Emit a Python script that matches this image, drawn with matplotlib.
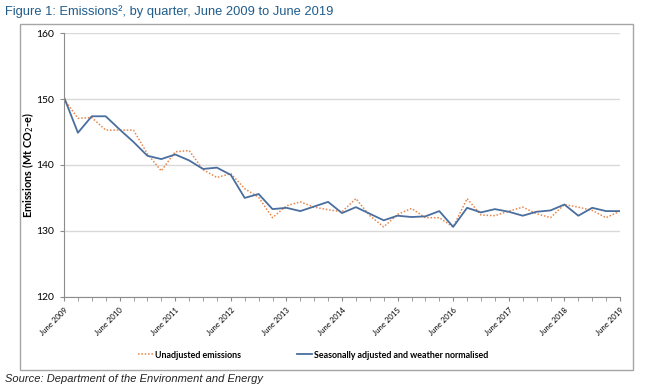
import numpy as np
import matplotlib
matplotlib.use("Agg")
import matplotlib.pyplot as plt
from matplotlib.patches import Rectangle

# quarterly values, June 2009 .. June 2019 (41 quarters)
unadjusted = [150.0, 147.1, 147.2, 145.3, 145.3, 145.3, 141.7, 139.1, 142.0, 142.2,
              139.3, 138.1, 138.7, 136.4, 135.1, 132.0, 133.8, 134.4, 133.6, 133.2,
              132.9, 134.9, 132.3, 130.6, 132.5, 133.4, 132.0, 132.0, 130.6, 134.9,
              132.4, 132.3, 133.0, 133.6, 132.6, 132.0, 134.0, 133.6, 133.1, 132.0,
              133.0]
adjusted = [150.3, 144.9, 147.4, 147.4, 145.4, 143.5, 141.4, 140.9, 141.6, 140.7,
            139.4, 139.6, 138.5, 135.0, 135.6, 133.3, 133.5, 133.0, 133.7, 134.4,
            132.7, 133.6, 132.6, 131.6, 132.3, 132.1, 132.2, 133.0, 130.6, 133.5,
            132.8, 133.3, 132.9, 132.3, 132.9, 133.1, 134.0, 132.3, 133.5, 133.0,
            133.0]
years = list(range(2009, 2020))
year_labels = ["June %d" % y for y in years]

chart_font = "Lato"
x = np.arange(len(adjusted))

fig = plt.figure(figsize=(6.59, 3.92), dpi=100)
ax = fig.add_axes([64 / 659, 1 - 296.7 / 392, 556 / 659, 263.4 / 392])

ax.plot(x, unadjusted, color="#E8864A", linestyle=(0, (1, 1.2)), linewidth=1.1,
        label="Unadjusted emissions")
ax.plot(x, adjusted, color="#4A6E9E", linewidth=1.3,
        label="Seasonally adjusted and weather normalised")

ax.set_xlim(0, 40)
ax.set_ylim(120, 160)
ax.set_yticks([120, 130, 140, 150, 160])
ax.set_xticks(np.arange(0, 41, 4))
ax.set_xticks(np.arange(0, 41, 1), minor=True)
ax.set_xticklabels(year_labels, rotation=45, ha="right", va="top",
                   rotation_mode="anchor", fontsize=5.6, family=chart_font)
for lab in ax.get_yticklabels():
    lab.set_family(chart_font)
    lab.set_fontsize(7.5)

ax.grid(axis="y", color="#D9D9D9", linewidth=1)
ax.set_axisbelow(True)
for s in ["top", "right"]:
    ax.spines[s].set_visible(False)
for s in ["left", "bottom"]:
    ax.spines[s].set_color("#8C8C8C")
ax.tick_params(axis="y", length=3, color="#8C8C8C", pad=4)
ax.tick_params(axis="x", which="both", length=3, color="#8C8C8C", pad=4)

ax.set_ylabel("Emissions (Mt CO$_2$-e)", fontsize=7.8, fontweight="bold",
              family=chart_font, va="center")
ax.yaxis.set_label_coords(-36 / 556, 0.5)

leg = fig.legend(loc="center", bbox_to_anchor=(0.475, 1 - 355 / 392), ncol=2,
                 frameon=False, columnspacing=6.3, handlelength=1.7, handletextpad=0.2,
                 prop={"family": chart_font, "weight": "bold", "size": 6.4})

fig.patches.append(Rectangle((20 / 659, 1 - 370 / 392), 613 / 659, 346 / 392,
                             transform=fig.transFigure, fill=False,
                             edgecolor="#A6A6A6", linewidth=1))

fig.text(5 / 659, 1 - 12 / 392, "Figure 1: Emissions\u00b2, by quarter, June 2009 to June 2019",
         fontsize=9.3, color="#1F5C8C", family="Liberation Sans", va="center")
fig.text(5 / 659, 1 - 379 / 392, "Source: Department of the Environment and Energy",
         fontsize=8, style="italic", color="#222222", family="Liberation Sans", va="center")

fig.savefig("out.png", dpi=100)
